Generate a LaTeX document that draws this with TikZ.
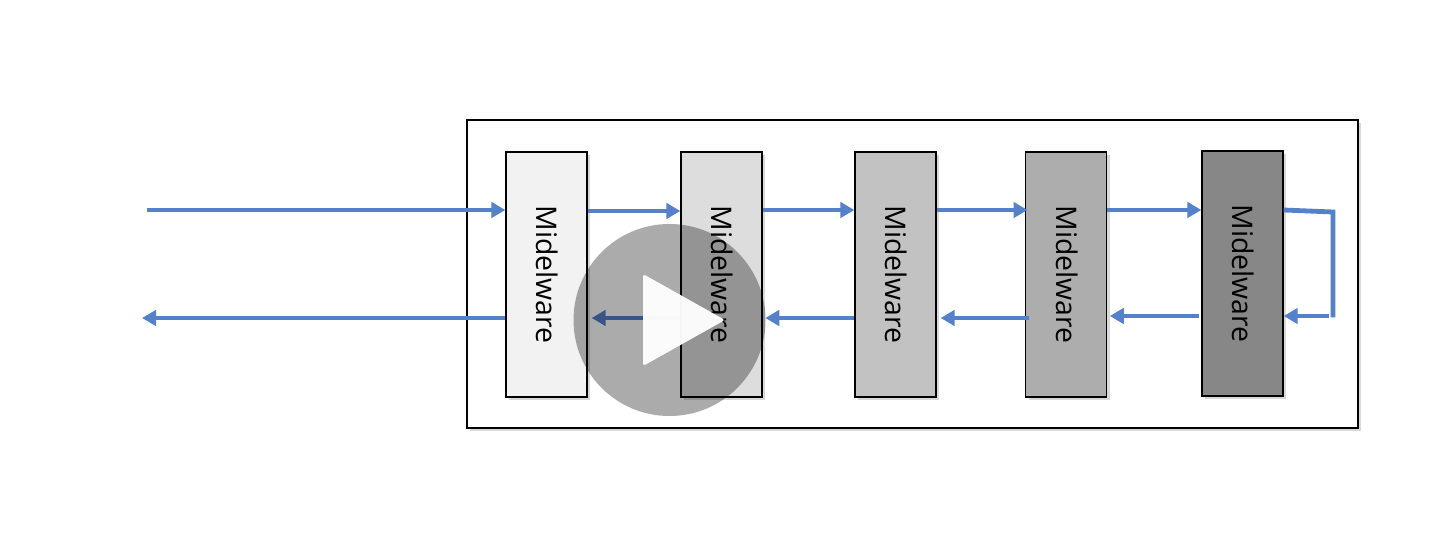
\documentclass[tikz,border=0pt]{standalone}
\usepackage{fontspec}
\setmainfont{Open Sans}
\usetikzlibrary{arrows.meta,shadows}
\definecolor{flowblue}{HTML}{5580CA}
\tikzset{
  midware/.style={
    draw=black,
    line width=1pt,
    minimum width=60.75pt,
    minimum height=183.75pt,
    inner sep=0pt,
    drop shadow={shadow xshift=2.5pt,shadow yshift=-2.5pt,opacity=0.3}
  },
  midlabel/.style={
    rotate=-90,
    font=\fontsize{21.3}{23}\selectfont
  },
  flow/.style={
    draw=flowblue,
    line width=3.6pt,
    -{Triangle[length=10.5pt,width=11.5pt]}
  },
  flowline/.style={
    draw=flowblue,
    line width=3.6pt
  }
}

\begin{document}
\begin{tikzpicture}[x=0.75pt,y=-0.75pt]
            \useasboundingbox (0,0) rectangle (1436,546);
            \node[draw=black,line width=1pt,minimum width=668.25pt,minimum height=231pt,inner sep=0pt,
                drop shadow={shadow xshift=2pt,shadow yshift=-2pt,opacity=0.3},fill=white] (frame) at (912.5,274) {};
            \foreach \n/\x/\y/\c in {1/546.5/274.5/F2F2F2,2/721.5/274.5/DDDDDD,3/895.5/274.5/C2C2C2,4/1066/274.5/ADADAD,5/1242.5/273.5/878787}{
                    \definecolor{mid\n}{HTML}{\c}
                    \node[midware,fill=mid\n] (m\n) at (\x,\y) {};
                    \node[midlabel] (t\n) at (\x+1,\y) {Midelware};
                }
            % free ends and the two rows
            \coordinate (in) at (147,210);
            \coordinate (out) at (142,318);
            \coordinate (turn) at (1333,212);
            \coordinate (back) at (1333,316);
            \draw[flow] (in) -- (in -| m1.west);
            \draw[flow] ([yshift=-0.75pt]in -| m1.east) -- ([yshift=-0.75pt]in -| m2.west);
            \draw[flow] (in -| m2.east) -- (in -| m3.west);
            \draw[flow] (in -| m3.east) -- ([xshift=2pt]in -| m4.west);
            \draw[flow] (in -| m4.east) -- (in -| m5.west);
            \draw[flowline,line join=miter] (in -| m5.east) -- (turn) -- ([yshift=-1pt]back);
            \draw[flow] ([xshift=-3pt]back) -- (back -| m5.east);
            \draw[flow] ([xshift=-2pt]back -| m5.west) -- ([xshift=2pt]back -| m4.east);
            \draw[flow] ([xshift=3pt]out -| m4.west) -- ([xshift=3pt]out -| m3.east);
            \draw[flow] (out -| m3.west) -- ([xshift=2pt]out -| m2.east);
            \draw[flow] (out -| m2.west) -- ([xshift=3pt]out -| m1.east);
            \draw[flow] (out -| m1.west) -- (out);
            % player overlay
            \node[circle,fill=black,opacity=0.33,minimum size=144pt,inner sep=0pt] (play) at (669.5,320) {};
            \fill[white,opacity=0.96,rounded corners=2pt] (643,274) -- (725,320) -- (643,366) -- cycle;
        \end{tikzpicture}
\end{document}
